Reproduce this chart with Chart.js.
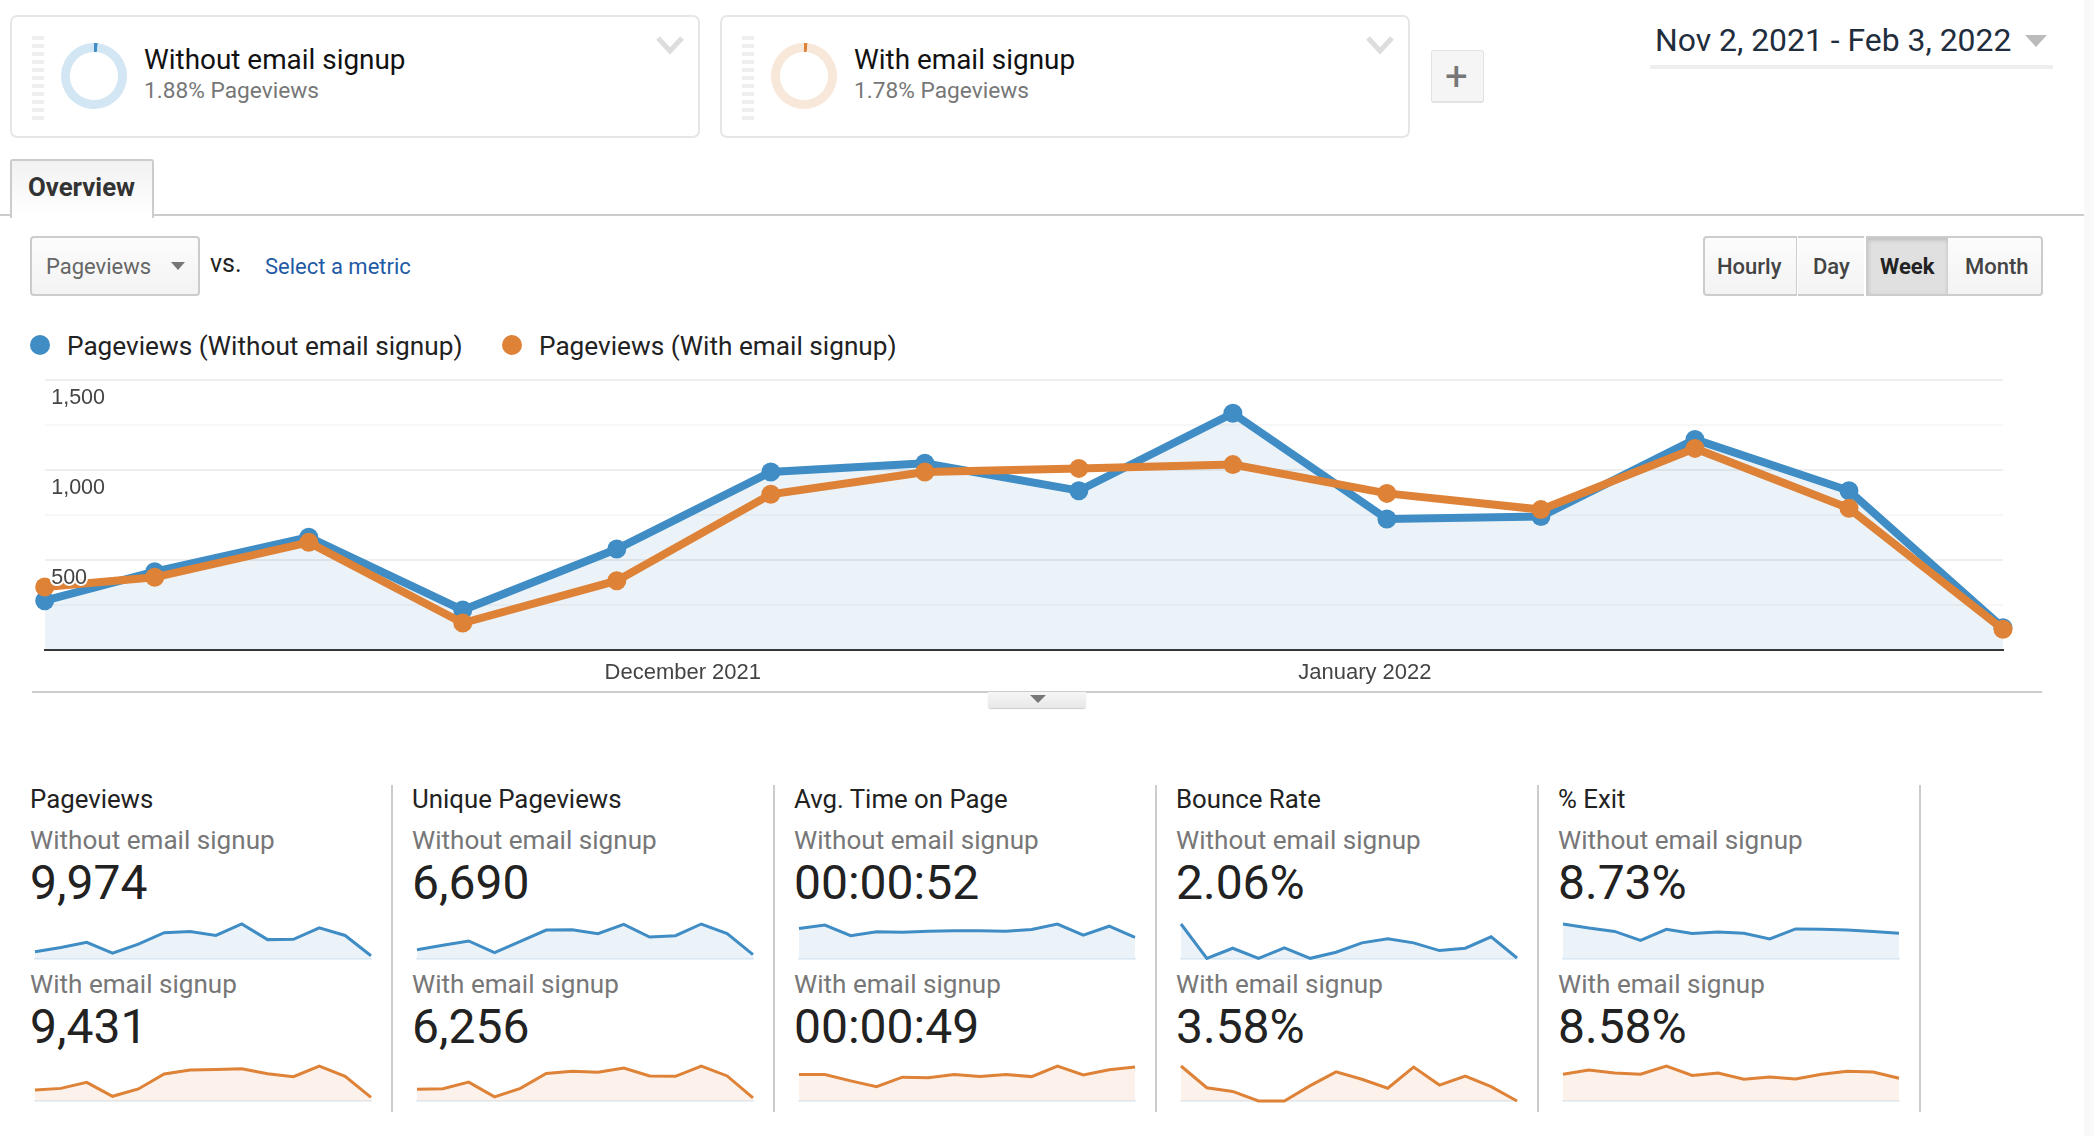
<!DOCTYPE html>
<html>
<head>
<meta charset="utf-8">
<title>Pageviews</title>
<script src="https://cdn.jsdelivr.net/npm/chart.js@4"></script>
<style>
html, body { margin: 0; padding: 0; background: #fff; }
#page { position: relative; width: 2094px; height: 1136px; overflow: hidden; font-family: Roboto, sans-serif; color: #222; }
#page > * { position: absolute; }
.t { white-space: nowrap; line-height: 1; }
canvas { display: block; }
.card { width: 686px; height: 119px; top: 15px; border: 2px solid #e6e6e6; border-radius: 7px; box-sizing: content-box; }
.grip { width: 12px; height: 84px; top: 36px; background: repeating-linear-gradient(to bottom, #eeeeee 0 4px, #fff 4px 8px); }
.arrow { width: 0; height: 0; border-left: 8px solid transparent; border-right: 8px solid transparent; border-top: 8px solid #777; }
.btn { top: 236px; height: 56px; border: 2px solid #ccc; background: linear-gradient(#fcfcfc, #f3f3f3); box-sizing: content-box; }
.rule { background: #ccc; }
</style>
</head>
<body>
<div id="page"></div>
<script>
// week starts, counted in days from Nov 2 2021 (first and last bucket are partial)
const weekDays = [0, 5, 12, 19, 26, 33, 40, 47, 54, 61, 68, 75, 82, 89];
const withoutSignup = [274, 435, 626, 222, 561, 989, 1037, 885, 1315, 728, 741, 1170, 885, 124];
const withSignup = [350, 404, 598, 150, 385, 865, 989, 1009, 1030, 870, 780, 1120, 787, 115];

const xTickDays = [29, 60];
const xTickLabels = ['December 2021', 'January 2022'];
const yTickValues = [500, 1000, 1500];

const legendLabels = ['Pageviews (Without email signup)', 'Pageviews (With email signup)'];
const segmentNames = ['Without email signup', 'With email signup'];
const segmentShares = [1.88, 1.78];

const metricNames = ['Pageviews', 'Unique Pageviews', 'Avg. Time on Page', 'Bounce Rate', '% Exit'];
const metricWithout = ['9,974', '6,690', '00:00:52', '2.06%', '8.73%'];
const metricWith = ['9,431', '6,256', '00:00:49', '3.58%', '8.58%'];

// sparklines
const uniqueWithout = [213, 312, 411, 144, 403, 661, 669, 578, 791, 502, 532, 798, 578, 99];
const uniqueWith = [250, 265, 405, 88, 272, 589, 640, 618, 707, 537, 530, 751, 537, 66];
const timeWithout = [55, 61, 42, 49, 48, 50, 51, 51, 50, 53, 63, 43, 59, 39];
const timeWith = [50, 50, 38, 27, 45, 44, 50, 46, 50, 46, 66, 49, 59, 64];
const bounceWithout = [5.2, 0.1, 1.6, 0.1, 1.65, 0.1, 1, 2.4, 3, 2.4, 1.25, 1.6, 3.3, 0.15];
const bounceWith = [6.6, 2.5, 1.8, 0, 0, 2.9, 5.5, 4.1, 2.4, 6.4, 3, 4.7, 2.7, 0];
const exitWithout = [11.3, 10, 8.9, 6, 9.6, 8.2, 8.7, 8.3, 6.5, 9.7, 9.6, 9.4, 8.9, 8.3];
const exitWith = [8.5, 9.8, 8.9, 8.5, 11.1, 8.1, 8.9, 6.9, 7.6, 7, 8.5, 9.4, 9.2, 7.2];

const sparkWithout = [withoutSignup, uniqueWithout, timeWithout, bounceWithout, exitWithout];
const sparkWith = [withSignup, uniqueWith, timeWith, bounceWith, exitWith];

const BLUE = '#3f8dc4';
const ORANGE = '#de8237';
const BLUE_FILL = 'rgba(64,140,196,0.105)';
const ORANGE_FILL = 'rgba(222,130,55,0.1)';

const page = document.getElementById('page');

function box(css, cls) {
    const el = document.createElement('div');
    if (cls) el.className = cls;
    el.style.cssText = css;
    page.appendChild(el);
    return el;
}

// centerY is where the middle of the line box goes
function text(str, x, centerY, size, color, extra) {
    const el = box('left:' + x + 'px;top:' + (centerY - size / 2) + 'px;font-size:' + size + 'px;color:' + color + ';' + (extra || ''), 't');
    el.textContent = str;
    return el;
}

function canvasAt(x, y, w, h) {
    const c = document.createElement('canvas');
    c.width = w;
    c.height = h;
    c.style.cssText = 'left:' + x + 'px;top:' + y + 'px;width:' + w + 'px;height:' + h + 'px';
    page.appendChild(c);
    return c;
}

// segment cards
[10, 720].forEach((x, i) => {
    box('left:' + x + 'px', 'card');
    box('left:' + (x + 22) + 'px', 'grip');
    text(segmentNames[i], x + 134, 60, 27.9, '#111');
    text(segmentShares[i] + '% Pageviews', x + 134, 91, 22.7, '#777');
    const chevron = box('left:' + (x + 646) + 'px;top:36px;width:28px;height:18px');
    chevron.innerHTML = '<svg width="28" height="18"><polyline points="2,2 14,15 26,2" fill="none" stroke="#ddd" stroke-width="5"/></svg>';
    new Chart(canvasAt(x + 51, 43, 66, 66), {
        type: 'doughnut',
        data: {
            datasets: [{
                data: [segmentShares[i], 100 - segmentShares[i]],
                backgroundColor: i === 0 ? [BLUE, '#d3e6f3'] : [ORANGE, '#f8e8da'],
                borderWidth: 0
            }]
        },
        options: {
            responsive: false,
            animation: false,
            cutout: '73%',
            layout: { padding: 0 },
            plugins: { legend: { display: false }, tooltip: { enabled: false } }
        }
    });
});

// add segment button
box('left:1431px;top:50px;width:51px;height:50px;background:#f5f5f5;border:1px solid #e2e2e2;border-bottom-width:2px;border-radius:3px');
text('+', 1445, 76.5, 40, '#777', 'font-weight:400');

// date range
text('Nov 2, 2021 - Feb 3, 2022', 1655, 41, 31.9, '#1f2d3d');
box('left:2025px;top:35px;border-left-width:11px;border-right-width:11px;border-top:12px solid #bbb', 'arrow');
box('left:1650px;top:65px;width:403px;height:4px;background:#eee');

// right page edge
box('left:2084px;top:0;width:10px;height:1136px;background:#f9f9f9');

// tab
box('left:0;top:214px;width:2084px;height:2px', 'rule');
box('left:10px;top:159px;width:140px;height:57px;border:2px solid #ccc;border-bottom:0;border-radius:3px 3px 0 0;background:linear-gradient(#f2f2f2,#fff)');
text('Overview', 28, 188, 25.8, '#333', 'font-weight:700');

// metric picker
box('left:30px;width:166px;border-radius:4px;', 'btn');
text('Pageviews', 46, 267, 22, '#666');
box('left:171px;top:262px;border-left-width:7px;border-right-width:7px', 'arrow');
text('vs.', 210, 263.5, 25, '#222');
text('Select a metric', 265, 267, 22, '#1f5ba5');

// time grain buttons
box('left:1703px;width:91px;border-right-width:1px;border-radius:4px 0 0 4px', 'btn');
box('left:1798px;width:66px;border-left:0;border-right:0', 'btn');
box('left:1866px;width:80px;background:#e0e0e0;box-shadow:inset 0 2px 4px #bbb', 'btn');
box('left:1948px;width:93px;border-left:0;border-radius:0 4px 4px 0', 'btn');
text('Hourly', 1717, 267, 22, '#444', 'font-weight:500');
text('Day', 1813, 267, 22, '#444', 'font-weight:500');
text('Week', 1880, 267, 22, '#222', 'font-weight:700');
text('Month', 1965, 267, 22, '#444', 'font-weight:500');

// legend
box('left:30px;top:335px;width:20px;height:20px;border-radius:50%;background:' + BLUE);
text(legendLabels[0], 67, 346, 26.2, '#222');
box('left:502px;top:335px;width:20px;height:20px;border-radius:50%;background:' + ORANGE);
text(legendLabels[1], 539, 346, 26.2, '#222');

// main chart
const mainCanvas = canvasAt(0, 360, 2094, 340);
new Chart(mainCanvas, {
    type: 'line',
    data: {
        datasets: [{
            label: legendLabels[0],
            data: withoutSignup.map((v, i) => ({ x: weekDays[i], y: v })),
            borderColor: BLUE,
            backgroundColor: BLUE,
            pointBackgroundColor: BLUE,
            pointBorderWidth: 0,
            borderWidth: 8,
            pointRadius: 9.5,
            lineTension: 0,
            fill: { target: 'origin', above: BLUE_FILL },
            clip: false,
            order: 2
        }, {
            label: legendLabels[1],
            data: withSignup.map((v, i) => ({ x: weekDays[i], y: v })),
            borderColor: ORANGE,
            backgroundColor: ORANGE,
            pointBackgroundColor: ORANGE,
            pointBorderWidth: 0,
            borderWidth: 8,
            pointRadius: 9.5,
            lineTension: 0,
            fill: false,
            clip: false,
            order: 1
        }]
    },
    options: {
        responsive: false,
        animation: false,
        layout: { padding: { left: 44.7, right: 91, top: 20, bottom: 0 } },
        plugins: { legend: { display: false }, tooltip: { enabled: false } },
        scales: {
            x: {
                type: 'linear',
                min: 0,
                max: 89,
                afterBuildTicks: axis => { axis.ticks = xTickDays.map(d => ({ value: d })); },
                afterFit: axis => { axis.height = 50; },
                grid: { display: false },
                border: { color: '#333', width: 2 },
                ticks: {
                    autoSkip: false,
                    maxRotation: 0,
                    padding: 1.5,
                    color: '#444',
                    font: { family: 'Liberation Sans', size: 22 },
                    callback: v => xTickLabels[xTickDays.indexOf(v)]
                }
            },
            y: {
                min: 0,
                max: 1500,
                afterFit: axis => { axis.width = 0; },
                grid: {
                    drawTicks: false,
                    lineWidth: 2,
                    color: ctx => ctx.tick.value % 500 === 0 ? '#eeeeee' : '#f7f7f7'
                },
                border: { display: false },
                ticks: {
                    stepSize: 250,
                    mirror: true,
                    padding: 6.5,
                    labelOffset: 18.5,
                    z: 1,
                    color: '#444',
                    textStrokeColor: '#fff',
                    textStrokeWidth: 4,
                    font: { family: 'Liberation Sans', size: 21.5 },
                    callback: v => yTickValues.includes(v) ? v.toLocaleString('en-US') : ''
                }
            }
        }
    }
});

// collapse handle under the chart
box('left:32px;top:691px;width:2010px;height:2px', 'rule');
box('left:988px;top:692px;width:98px;height:16px;background:linear-gradient(#f6f6f6,#e8e8e8);border-radius:0 0 3px 3px;box-shadow:0 1px 1px #ccc');
box('left:1030px;top:695px', 'arrow');

function sparkline(x, baseY, values, color, fillColor) {
    const c = canvasAt(x - 4, baseY - 40, 344, 44);
    new Chart(c, {
        type: 'line',
        data: {
            labels: values.map((v, i) => i),
            datasets: [{
                data: values,
                borderColor: color,
                borderWidth: 3,
                pointRadius: 0,
                lineTension: 0,
                fill: { target: 'origin', above: fillColor },
                clip: false
            }]
        },
        options: {
            responsive: false,
            animation: false,
            layout: { padding: { left: 4, right: 4, top: 5, bottom: 4 } },
            plugins: { legend: { display: false }, tooltip: { enabled: false } },
            scales: {
                x: {
                    offset: false,
                    afterFit: axis => { axis.height = 0; },
                    grid: { display: false },
                    border: { color: '#e9f1f8', width: 2 },
                    ticks: { display: false }
                },
                y: { display: false, min: 0, max: Math.max(...values) }
            }
        }
    });
}

// metric columns
metricNames.forEach((name, i) => {
    const left = 30 + 382 * i;
    box('left:' + (391 + 382 * i) + 'px;top:785px;width:2px;height:327px', 'rule');
    text(name, left, 800, 25.8, '#222');
    text(segmentNames[0], left, 840, 26.1, '#777');
    text(metricWithout[i], left, 883, 48, '#222');
    text(segmentNames[1], left, 984, 26.1, '#777');
    text(metricWith[i], left, 1026.5, 48, '#222');
    sparkline(35 + 382 * i, 959, sparkWithout[i], BLUE, BLUE_FILL);
    sparkline(35 + 382 * i, 1101, sparkWith[i], ORANGE, ORANGE_FILL);
});
</script>
</body>
</html>
